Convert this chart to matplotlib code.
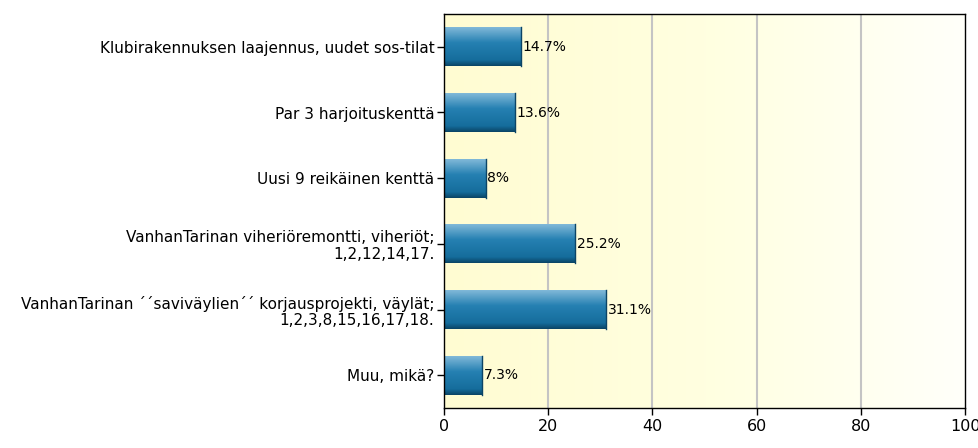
import numpy as np
import matplotlib
matplotlib.use("Agg")
import matplotlib.pyplot as plt
from matplotlib.colors import LinearSegmentedColormap

plt.rcParams['font.family'] = ['DejaVu Sans']

categories = [
    "Klubirakennuksen laajennus, uudet sos-tilat",
    "Par 3 harjoituskenttä",
    "Uusi 9 reikäinen kenttä",
    "VanhanTarinan viheriöremontti, viheriöt;\n1,2,12,14,17.",
    "VanhanTarinan ´´saviväylien´´ korjausprojekti, väylät;\n1,2,3,8,15,16,17,18.",
    "Muu, mikä?",
]
values = [14.7, 13.6, 8, 25.2, 31.1, 7.3]
value_labels = ["14.7%", "13.6%", "8%", "25.2%", "31.1%", "7.3%"]
xticks = [0, 20, 40, 60, 80, 100]

fig = plt.figure(figsize=(9.79, 4.48), dpi=100)
ax = fig.add_axes([444 / 979, 40 / 448, 521 / 979, 394 / 448])

n = len(categories)
ax.set_xlim(0, 100)
ax.set_ylim(n - 0.5, -0.5)

# Background: pale yellow fading to white towards the right
bg = LinearSegmentedColormap.from_list("bg", ["#fffcd2", "#ffffe0", "#fffffa"])
grad = np.linspace(0, 1, 256).reshape(1, -1)
ax.imshow(grad, cmap=bg, extent=(0, 100, n - 0.5, -0.5), aspect="auto", zorder=0)

for x in xticks[1:-1]:
    ax.axvline(x, color="#c4c4c4", lw=1.5, zorder=1)

# Bars with vertical shading: light top, dark bottom
bar_cmap = LinearSegmentedColormap.from_list(
    "bar", [(0, "#80b8d8"), (0.4, "#2580b2"), (0.85, "#156d9c"), (1, "#0a4566")])
bar_h = 0.59
bar_grad = np.linspace(0, 1, 64).reshape(-1, 1)
for i, v in enumerate(values):
    top = i - bar_h / 2
    bot = i + bar_h / 2
    im = ax.imshow(bar_grad, cmap=bar_cmap, extent=(0, v, bot, top),
                   aspect="auto", zorder=2)
    rect = plt.Rectangle((0, top), v, bar_h, facecolor="none", edgecolor="none")
    ax.add_patch(rect)
    im.set_clip_path(rect)
    ax.plot([v, v], [top, bot], color="#0b4466", lw=1, zorder=3)
    ax.text(v + 0.3, i, value_labels[i], va="center", ha="left",
            fontsize=10, color="#000000", zorder=4)

ax.set_xlim(0, 100)
ax.set_ylim(n - 0.5, -0.5)
ax.set_yticks(range(n))
ax.set_yticklabels(categories, fontsize=11, multialignment="right", linespacing=1.1)
ax.set_xticks(xticks)
ax.set_xticklabels([str(t) for t in xticks], fontsize=11.5)
ax.tick_params(axis="both", direction="out", length=5, width=1, color="#000000")
ax.tick_params(axis="y", pad=2)
ax.tick_params(axis="x", pad=3)
for s in ax.spines.values():
    s.set_color("#000000")
    s.set_linewidth(1)

fig.savefig("out.png", dpi=100, facecolor="white")
